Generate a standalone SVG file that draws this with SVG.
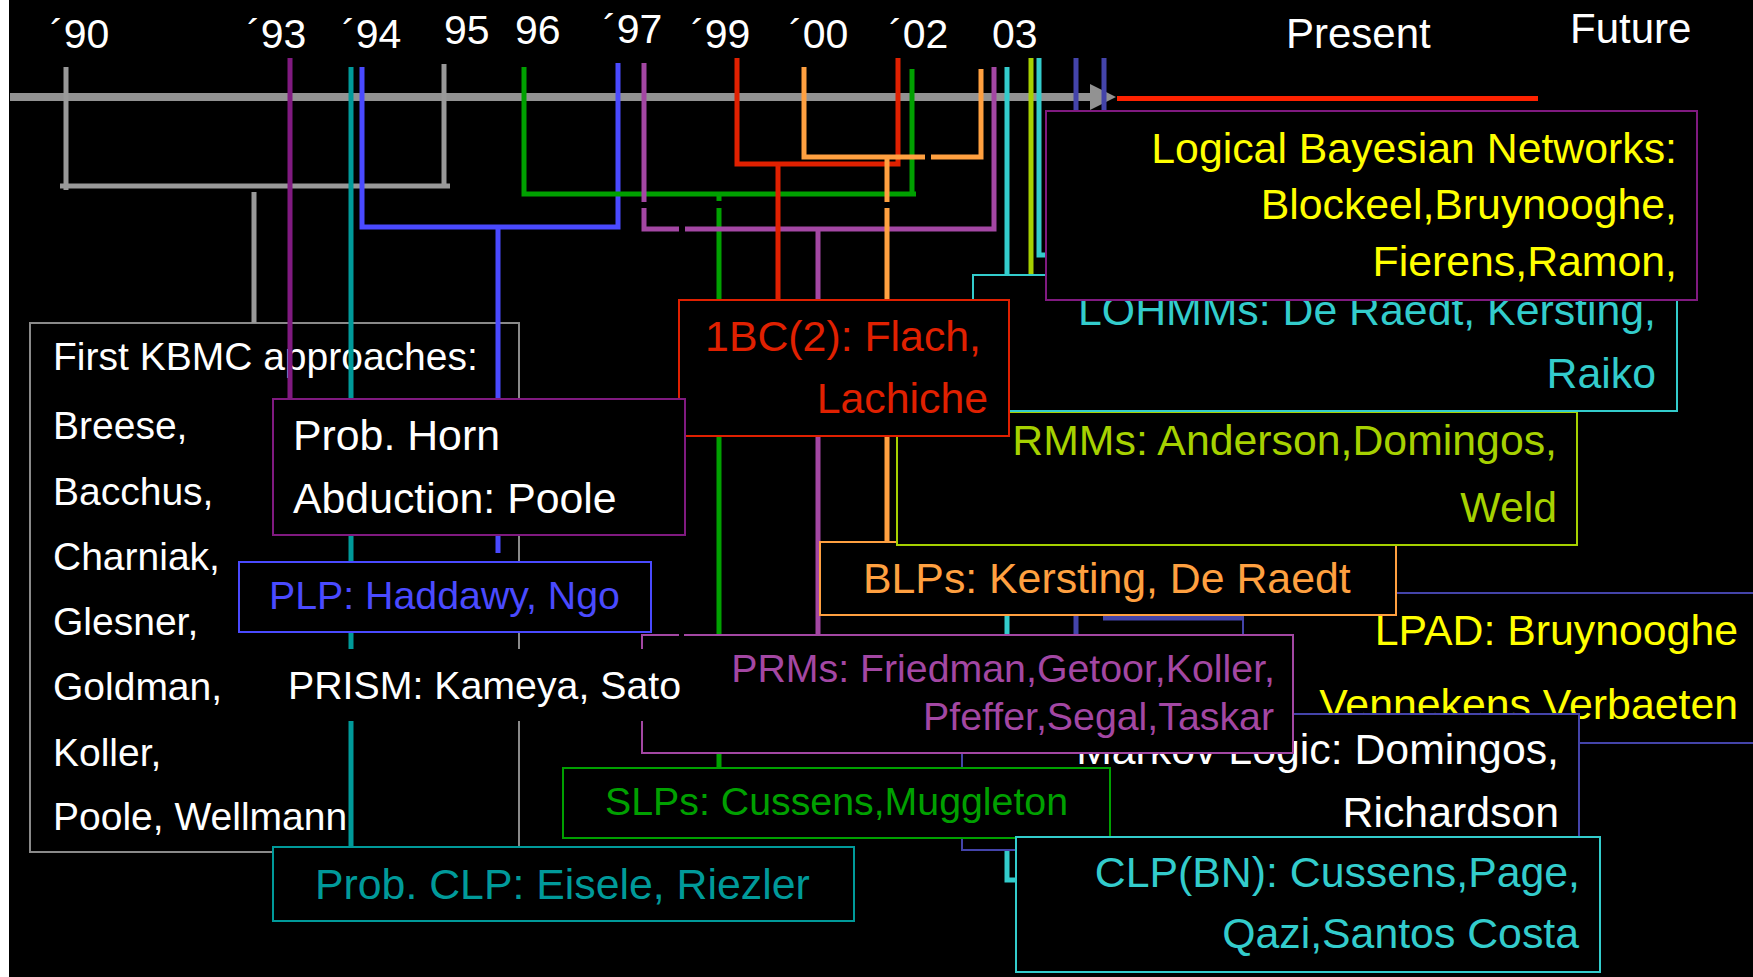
<svg xmlns="http://www.w3.org/2000/svg" width="1753" height="977" viewBox="0 0 1753 977">
<style>
text{font-family:"Liberation Sans",Arial,sans-serif;}
.yr{fill:#fff;font-size:41px;}
.c{fill:none;stroke-width:5;}
.b{fill:#000;stroke-width:2;}
.s42{font-size:42.8px;}
.s39{font-size:39.3px;}
.k{font-size:39px;}
.e{text-anchor:end;}
</style>
<rect x="0" y="0" width="1753" height="977" fill="#000"/>
<rect x="0" y="0" width="9" height="977" fill="#fff"/>
<g id="years">
<text class="yr" x="50" y="48">´90</text>
<text class="yr" x="247" y="48">´93</text>
<text class="yr" x="342" y="48">´94</text>
<text class="yr" x="444" y="44">95</text>
<text class="yr" x="515" y="44">96</text>
<text class="yr" x="603" y="43">´97</text>
<text class="yr" x="691" y="48">´99</text>
<text class="yr" x="789" y="48">´00</text>
<text class="yr" x="889" y="48">´02</text>
<text class="yr" x="992" y="48">03</text>
<text class="yr" x="1286" y="48" style="font-size:42px">Present</text>
<text class="yr" x="1570" y="43" style="font-size:42px">Future</text>
</g>
<g id="kbmc">
<rect class="b" x="30" y="323" width="489" height="529" stroke="#8a8a8a"/>
<g fill="#fff">
<text x="53" y="370" class="k">First KBMC approaches:</text>
<text x="53" y="439" class="k">Breese,</text>
<text x="53" y="505" class="k">Bacchus,</text>
<text x="53" y="570" class="k">Charniak,</text>
<text x="53" y="635" class="k">Glesner,</text>
<text x="53" y="700" class="k">Goldman,</text>
<text x="53" y="766" class="k">Koller,</text>
<text x="53" y="830" class="k">Poole, Wellmann</text>
</g>
</g>
<g id="connectors">
<path d="M10,97 H1092" stroke="#929292" stroke-width="8" fill="none"/>
<polygon points="1090,84 1116,97 1090,110" fill="#929292"/>
<path d="M1117,98.5 H1538" stroke="#ff2200" class="c"/>
<g stroke="#999">
<path class="c" d="M66,67 V190"/>
<path class="c" d="M444,64 V186"/>
<path class="c" d="M60,186 H450"/>
<path class="c" d="M254,192 V323" stroke-width="4"/>
</g>
<path class="c" stroke="#801a80" d="M290,58 V399"/>
<path class="c" stroke="#009a9a" d="M351,67 V847"/>
<g stroke="#4a4aff">
<path class="c" d="M362,67 V227 H618 V63"/>
<path class="c" d="M498,227 V553"/>
</g>
<g stroke="#00a000">
<path class="c" d="M524,67 V194 H916"/>
<path class="c" d="M912,69 V194"/>
<path class="c" d="M719,194 V201 M719,208 V767"/>
</g>
<g stroke="#a347a3">
<path class="c" d="M644,63 V202 M644,208 V229 H679 M685,229 H994 V67"/>
<path class="c" d="M818,229 V635"/>
</g>
<g stroke="#e02000">
<path class="c" d="M737,58 V164 H898 V58"/>
<path class="c" d="M778,164 V300"/>
</g>
<g stroke="#ffa040">
<path class="c" d="M804,67 V157 H925 M931,157 H981 V69"/>
<path class="c" d="M887,157 V202 M887,208 V542"/>
</g>
<g stroke="#33cccc">
<path class="c" d="M1007,67 V880 H1017"/>
<path class="c" stroke-width="4" d="M1039,58 V255 H1046"/>
</g>
<g stroke="#a6d100">
<path class="c" d="M1031,58 V275"/>
<path class="c" stroke-width="4" d="M1072,411 V417"/>
</g>
<g stroke="#4444aa">
<path class="c" stroke-width="4" d="M1076,58 V714"/>
<path class="c" stroke-width="4" d="M1104,58 V111"/>
<path class="c" stroke-width="2" d="M1103,618 H1243"/>
</g>
</g>
<g id="lpad">
<rect class="b" x="1243" y="593" width="540" height="150" stroke="#4444aa"/>
<text class="s42 e" x="1738" y="645" fill="#ffff00">LPAD: Bruynooghe</text>
<text class="s42 e" x="1738" y="719" fill="#ffff00">Vennekens Verbaeten</text>
</g>
<g id="blps">
<rect class="b" x="820" y="542" width="576" height="73" stroke="#ffa040"/>
<text class="s42" x="863" y="593" fill="#ffa040">BLPs: Kersting, De Raedt</text>
</g>
<g id="rmms">
<rect class="b" x="897" y="412" width="680" height="133" stroke="#a6d100"/>
<text class="s42 e" x="1557" y="455" fill="#a6d100">RMMs: Anderson,Domingos,</text>
<text class="s42 e" x="1557" y="522" fill="#a6d100">Weld</text>
</g>
<g id="lohmms">
<rect class="b" x="973" y="275" width="704" height="136" stroke="#33cccc"/>
<text class="s42 e" x="1656" y="325" fill="#33cccc">LOHMMs: De Raedt, Kersting,</text>
<text class="s42 e" x="1656" y="388" fill="#33cccc">Raiko</text>
</g>
<g id="lbn">
<rect class="b" x="1046" y="111" width="651" height="189" stroke="#801a80"/>
<text class="s42 e" x="1677" y="163" fill="#ffff00">Logical Bayesian Networks:</text>
<text class="s42 e" x="1677" y="219" fill="#ffff00">Blockeel,Bruynooghe,</text>
<text class="s42 e" x="1677" y="276" fill="#ffff00">Fierens,Ramon,</text>
</g>
<g id="onebc">
<rect class="b" x="679" y="300" width="330" height="136" stroke="#e02000"/>
<text class="s42 e" x="981" y="351" fill="#e02000">1BC(2): Flach,</text>
<text class="s42 e" x="988" y="413" fill="#e02000">Lachiche</text>
</g>
<g id="probhorn">
<rect class="b" x="273" y="399" width="412" height="136" stroke="#801a80"/>
<text class="s42" x="293" y="450" fill="#fff">Prob. Horn</text>
<text class="s42" x="293" y="513" fill="#fff">Abduction: Poole</text>
</g>
<g id="plp">
<rect class="b" x="239" y="562" width="412" height="70" stroke="#4a4aff"/>
<text class="s39" x="269" y="609" fill="#4a4aff">PLP: Haddawy, Ngo</text>
</g>
<g id="markov">
<rect class="b" x="962" y="714" width="617" height="136" stroke="#4444aa"/>
<text class="s42 e" x="1559" y="764" fill="#fff">Markov Logic: Domingos,</text>
<text class="s42 e" x="1559" y="827" fill="#fff">Richardson</text>
</g>
<g id="prms">
<rect x="642" y="635" width="651" height="118" fill="#000"/>
<path d="M684,635 H1293 V753 H642 V635 H679" fill="none" stroke="#a347a3" stroke-width="2"/>
<text x="1275" y="682" class="s39 e" fill="#a347a3">PRMs: Friedman,Getoor,Koller,</text>
<text x="1274" y="730" class="s39 e" fill="#a347a3">Pfeffer,Segal,Taskar</text>
</g>
<g id="prism">
<rect x="262" y="649" width="438" height="72" fill="#000"/>
<text class="s39" x="288" y="699" fill="#fff">PRISM: Kameya, Sato</text>
</g>
<g id="slps">
<rect class="b" x="563" y="768" width="547" height="70" stroke="#00a000"/>
<text class="s39" x="605" y="815" fill="#00a000">SLPs: Cussens,Muggleton</text>
</g>
<g id="clpbn">
<rect class="b" x="1016" y="837" width="584" height="135" stroke="#33cccc"/>
<text class="s42 e" x="1580" y="887" fill="#33cccc">CLP(BN): Cussens,Page,</text>
<text class="s42 e" x="1579" y="948" fill="#33cccc">Qazi,Santos Costa</text>
</g>
<g id="probclp">
<rect class="b" x="273" y="847" width="581" height="74" stroke="#009a9a"/>
<text class="s42" x="315" y="899" fill="#009a9a">Prob. CLP: Eisele, Riezler</text>
</g>
</svg>
